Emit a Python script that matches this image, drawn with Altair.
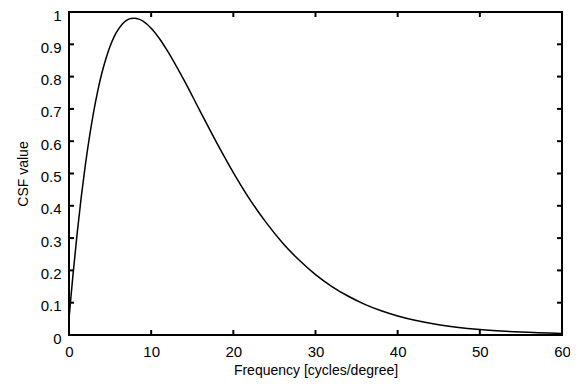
import altair as alt
import pandas as pd

freq = [0, 0.25, 0.5, 1, 1.5, 2, 2.5, 3, 3.5, 4, 4.5, 5, 5.5, 6, 6.5, 7, 7.5, 8, 8.5, 9, 10, 11, 12,
        14, 16, 18, 20, 22, 24, 26, 28, 30, 32, 34, 36, 38, 40, 45, 50, 55, 60]
csf = [0.05, 0.122, 0.19, 0.316, 0.429, 0.528, 0.615, 0.691, 0.756, 0.811, 0.856, 0.894, 0.924,
       0.946, 0.963, 0.974, 0.980, 0.981, 0.978, 0.972, 0.950, 0.918, 0.879,
       0.789, 0.691, 0.594, 0.503, 0.420, 0.348, 0.285, 0.232, 0.187, 0.150, 0.120, 0.095,
       0.075, 0.059, 0.032, 0.017, 0.009, 0.0045]

x_ticks = [0, 10, 20, 30, 40, 50, 60]
y_ticks = [0, 0.1, 0.2, 0.3, 0.4, 0.5, 0.6, 0.7, 0.8, 0.9, 1]

W, H = 493, 323
FONT = "Liberation Sans"
TL = 5

df = pd.DataFrame({"f": freq, "v": csf})
xt = pd.DataFrame({"t": x_ticks})
yt = pd.DataFrame({"t": y_ticks})

xs = alt.Scale(domain=[0, 60], nice=False, zero=False)
ys = alt.Scale(domain=[0, 1], nice=False, zero=False)

xaxis = alt.Axis(
    values=x_ticks, ticks=False, domain=False, grid=False,
    labelOverlap=False, labelFlush=False,
    title="Frequency [cycles/degree]", labelPadding=9, titlePadding=4,
    labelFont=FONT, titleFont=FONT, labelFontSize=15, titleFontSize=14,
    titleFontWeight="normal", labelColor="black", titleColor="black")
yaxis = alt.Axis(
    values=y_ticks, ticks=False, domain=False, grid=False, format="~g",
    labelOverlap=False, labelFlush=False, labelOffset=3,
    title="CSF value", labelPadding=8, titlePadding=10,
    labelFont=FONT, titleFont=FONT, labelFontSize=15, titleFontSize=14,
    titleFontWeight="normal", labelColor="black", titleColor="black")

line = alt.Chart(df).mark_line(color="black", strokeWidth=1.5, interpolate="monotone", clip=True).encode(
    x=alt.X("f:Q", scale=xs, axis=xaxis),
    y=alt.Y("v:Q", scale=ys, axis=yaxis),
)

xb = alt.Chart(xt).mark_rule(color="black", strokeWidth=2).encode(
    x=alt.X("t:Q", scale=xs, axis=xaxis), y=alt.value(H), y2=alt.value(H - TL))
xtop = alt.Chart(xt).mark_rule(color="black", strokeWidth=2).encode(
    x=alt.X("t:Q", scale=xs, axis=xaxis), y=alt.value(0), y2=alt.value(TL))
yl = alt.Chart(yt).mark_rule(color="black", strokeWidth=2).encode(
    y=alt.Y("t:Q", scale=ys, axis=yaxis), x=alt.value(0), x2=alt.value(TL))
yr = alt.Chart(yt).mark_rule(color="black", strokeWidth=2).encode(
    y=alt.Y("t:Q", scale=ys, axis=yaxis), x=alt.value(W), x2=alt.value(W - TL))

chart = alt.layer(line, xb, xtop, yl, yr).properties(
    width=W, height=H,
    autosize=alt.AutoSizeParams(type="none"),
    padding={"left": 61, "top": 4, "right": 8, "bottom": 43},
).configure(background="white").configure_view(stroke="black", strokeWidth=2)

chart.save("out.html", embed_options={"renderer": "svg", "actions": False})
